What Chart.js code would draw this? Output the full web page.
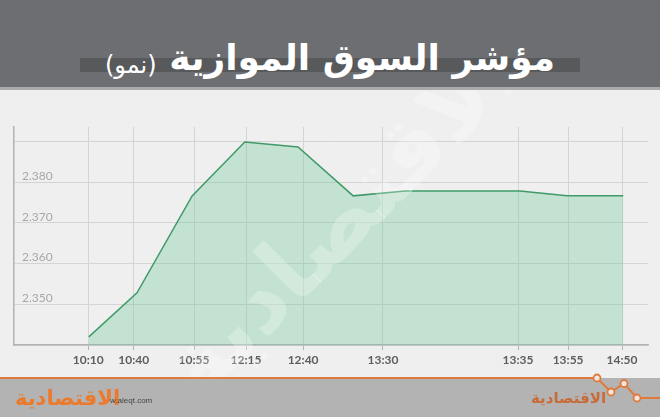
<!DOCTYPE html>
<html lang="ar">
<head>
<meta charset="utf-8">
<title>مؤشر السوق الموازية (نمو)</title>
<script src="https://cdn.jsdelivr.net/npm/chart.js@4/dist/chart.umd.min.js"></script>
<style>
    body { margin: 0; width: 660px; height: 417px; background: #efefef; position: relative; overflow: hidden; }
    #cabecera { position: absolute; left: 0; top: 0; width: 660px; height: 87px; background: #6d6e71; }
    #franja { position: absolute; left: 0; top: 87px; width: 660px; height: 3px; background: #a9aaac; }
    #barra { position: absolute; left: 80px; top: 58px; width: 500px; height: 14px; background: #58595b; }
    #titulo { position: absolute; left: 0; top: 38px; width: 660px; text-align: center; direction: rtl;
              font-family: "DejaVu Sans", sans-serif; font-weight: bold; font-size: 36px; line-height: 40px; color: #fff; white-space: nowrap; }
    #titulo span { font-size: 24px; font-weight: normal; position: relative; top: 3px; }
    #lienzo { position: absolute; left: 0; top: 90px; width: 660px; height: 288px; }
    #recorte { position: absolute; left: 0; top: 90px; width: 660px; height: 288px; overflow: hidden; pointer-events: none; }
    #marca { position: absolute; left: 110px; top: 75px; width: 460px; text-align: center;
             font-family: "DejaVu Sans", sans-serif; font-weight: bold; font-size: 92px; color: rgba(255,255,255,0.25);
             transform: rotate(-45deg); direction: rtl; }
    #pie { position: absolute; left: 0; top: 378px; width: 660px; height: 39px; background: #b3b3b3; }
    #logo { position: absolute; left: 15px; top: 386px; direction: rtl; font-family: "DejaVu Sans", sans-serif;
            font-weight: bold; font-size: 21px; color: #ec7a2c; }
    #web { position: absolute; left: 110px; top: 396px; font-family: "Liberation Sans", sans-serif; font-size: 8px; color: #444; }
    #logo2 { position: absolute; left: 531px; top: 389px; direction: rtl; font-family: "DejaVu Sans", sans-serif;
             font-weight: bold; font-size: 15px; color: #c86b38; }
    #zigzag { position: absolute; left: 0; top: 370px; }
</style>
</head>
<body>
<div id="cabecera"></div>
<div id="franja"></div>
<div id="barra"></div>
<div id="titulo">مؤشر السوق الموازية <span>(نمو)</span></div>
<div id="lienzo"><canvas id="grafico" width="660" height="288"></canvas></div>
<div id="recorte"><div id="marca">الاقتصادية</div></div>
<div id="pie"></div>
<svg id="zigzag" width="660" height="40">
    <polyline points="0,8 597,8 611,22 624,13.5 637,28 660,28" fill="none" stroke="#e07a3c" stroke-width="2"/>
    <circle cx="597" cy="8" r="3.5" fill="#f3e6dc" stroke="#e07a3c" stroke-width="1.8"/>
    <circle cx="611" cy="22" r="3.5" fill="#f3e6dc" stroke="#e07a3c" stroke-width="1.8"/>
    <circle cx="624" cy="13.5" r="3.5" fill="#f3e6dc" stroke="#e07a3c" stroke-width="1.8"/>
    <circle cx="637" cy="28" r="3.5" fill="#f3e6dc" stroke="#e07a3c" stroke-width="1.8"/>
</svg>
<div id="logo">الاقتصادية</div>
<div id="web">w.aleqt.com</div>
<div id="logo2">الاقتصادية</div>

<script>
// Posiciones de las etiquetas del eje X (unidades relativas 0-100)
const posicionesEtiquetas = [11.7, 18.9, 28.4, 36.6, 45.6, 58.2, 79.5, 87.4, 95.9];
const etiquetasHora = ['10:10', '10:40', '10:55', '12:15', '12:40', '13:30', '13:35', '13:55', '14:50'];

// Puntos de la serie del índice
const posicionesPuntos = [11.8, 19.4, 28.1, 36.4, 44.8, 53.5, 61.7, 79.8, 87.2, 96.1];
const valoresIndice = [2.3420, 2.3528, 2.3766, 2.3898, 2.3886, 2.3766, 2.3778, 2.3778, 2.3766, 2.3766];

// Líneas horizontales y etiquetas del eje Y
const lineasY = [2.34, 2.35, 2.36, 2.37, 2.38, 2.39];
const etiquetasY = [2.35, 2.36, 2.37, 2.38];

document.addEventListener('DOMContentLoaded', function() {
    const ctx = document.getElementById('grafico').getContext('2d');

    const puntos = posicionesPuntos.map((x, i) => ({ x: x, y: valoresIndice[i] }));

    new Chart(ctx, {
        type: 'line',
        data: {
            datasets: [{
                data: puntos,
                borderColor: '#3f9a67',
                borderWidth: 1.5,
                backgroundColor: 'rgba(107, 200, 147, 0.32)',
                fill: 'start',
                pointRadius: 0,
                tension: 0
            }]
        },
        options: {
            responsive: false,
            animation: false,
            layout: { padding: { left: 14, right: 12, top: 37, bottom: 0 } },
            plugins: {
                legend: { display: false },
                tooltip: { enabled: false }
            },
            scales: {
                x: {
                    type: 'linear',
                    min: 0,
                    max: 100,
                    afterBuildTicks: function(scale) {
                        scale.ticks = posicionesEtiquetas.map(v => ({ value: v }));
                    },
                    afterFit: function(scale) { scale.height = 33; },
                    ticks: {
                        autoSkip: false,
                        maxRotation: 0,
                        padding: 3,
                        color: '#5e5e5e',
                        font: { family: 'Lato', size: 12, weight: 'bold' },
                        callback: function(value) {
                            return etiquetasHora[posicionesEtiquetas.indexOf(value)];
                        }
                    },
                    grid: { color: '#d4d4d4', tickLength: 5, tickColor: '#b4b4b4' },
                    border: { color: '#b4b4b4', width: 1.5 }
                },
                y: {
                    min: 2.34,
                    max: 2.3935,
                    afterBuildTicks: function(scale) {
                        scale.ticks = lineasY.map(v => ({ value: v }));
                    },
                    afterFit: function(scale) { scale.width = 0; },
                    ticks: {
                        mirror: true,
                        padding: 8,
                        labelOffset: -6,
                        color: '#a8a8a8',
                        font: { family: 'Lato', size: 12 },
                        callback: function(value) {
                            const v = Math.round(value * 1000) / 1000;
                            return etiquetasY.includes(v) ? v.toFixed(3) : '';
                        }
                    },
                    grid: { color: '#d4d4d4', drawTicks: false },
                    border: { color: '#b4b4b4', width: 1.5 }
                }
            }
        }
    });
});
</script>
</body>
</html>
